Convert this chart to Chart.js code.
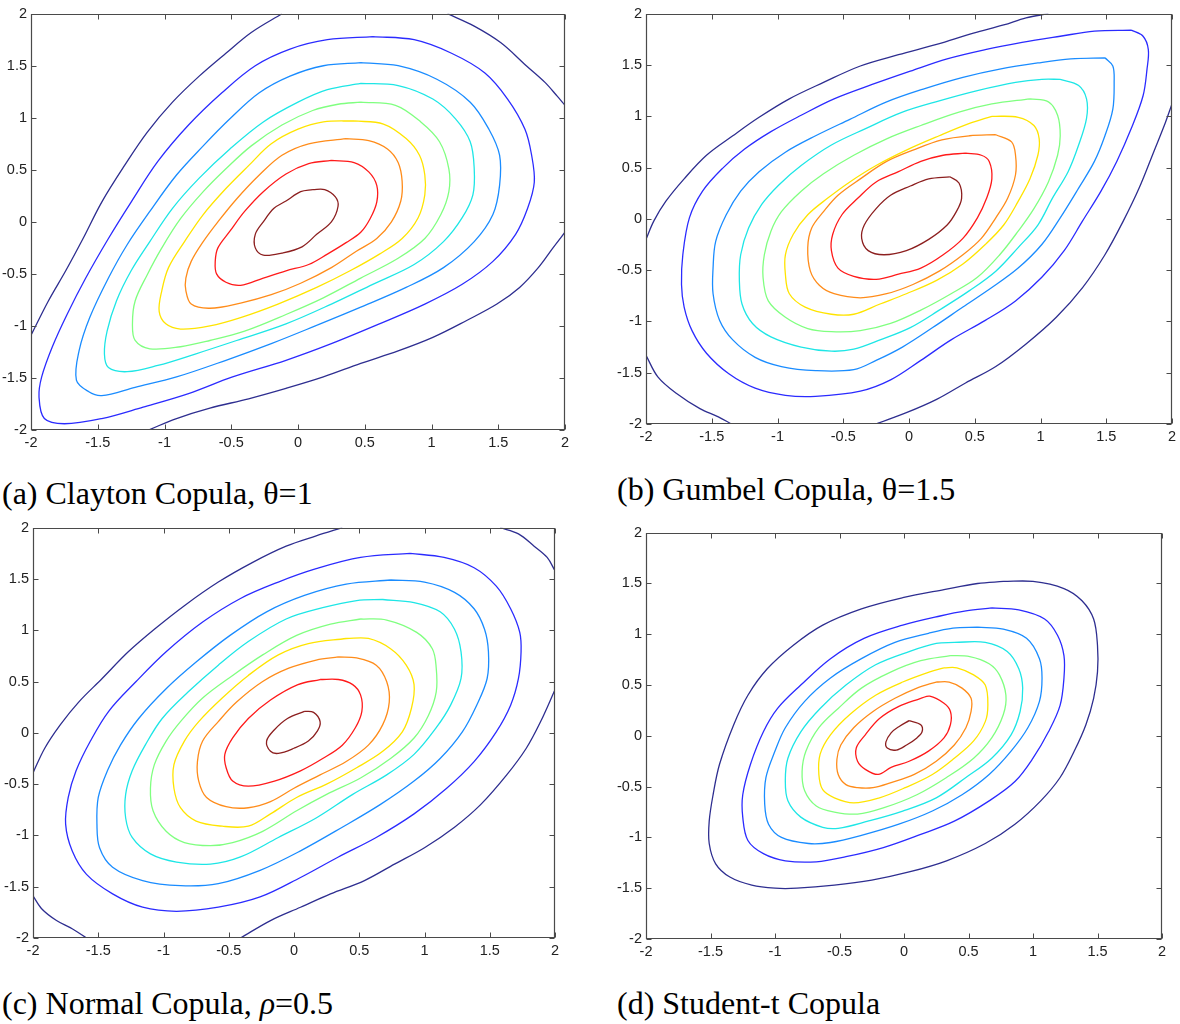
<!DOCTYPE html>
<html><head><meta charset="utf-8">
<script src="https://cdn.jsdelivr.net/npm/chart.js@4.4.1/dist/chart.umd.min.js"></script>
<style>
html,body{margin:0;padding:0;background:#fff;width:1180px;height:1024px;overflow:hidden;position:relative;}
canvas{position:absolute;}
.cap{position:absolute;font-family:"Liberation Serif","Times New Roman",serif;font-size:32px;line-height:32px;color:#000;white-space:nowrap;}
</style></head><body>
<canvas id="ca"></canvas><canvas id="cb"></canvas><canvas id="cc"></canvas><canvas id="cd"></canvas>
<div class="cap" style="left:2px;top:477px">(a) Clayton Copula, θ=1</div>
<div class="cap" style="left:617px;top:473px">(b) Gumbel Copula, θ=1.5</div>
<div class="cap" style="left:2px;top:987px">(c) Normal Copula, <i>ρ</i>=0.5</div>
<div class="cap" style="left:617px;top:987px">(d) Student-t Copula</div>
<script>
const tickValues=[-2,-1.5,-1,-0.5,0,0.5,1,1.5,2];
const tickLabels=['-2','-1.5','-1','-0.5','0','0.5','1','1.5','2'];
const levelColors=['#2e2e90','#2b2bff','#1a8cff','#1ee6e6','#80ff80','#ffe400','#ff8c1a','#ff1a1a','#8c1f1f'];

// (a) Clayton
const a1A=[[-2,-1.09],[-1.87,-0.76],[-1.74,-0.47],[-1.61,-0.16],[-1.47,0.19],[-1.3,0.54],[-1.13,0.86],[-0.94,1.15],[-0.74,1.4],[-0.54,1.62],[-0.35,1.82],[-0.12,2.0]];
const a1B=[[1.12,2.0],[1.32,1.88],[1.52,1.72],[1.71,1.5],[1.85,1.34],[1.94,1.21],[2.0,1.12]];
const a1C=[[2.0,-0.1],[1.91,-0.25],[1.8,-0.44],[1.66,-0.63],[1.49,-0.79],[1.26,-0.95],[1.01,-1.11],[0.75,-1.24],[0.47,-1.36],[0.19,-1.49],[-0.09,-1.6],[-0.37,-1.7],[-0.66,-1.79],[-0.91,-1.89],[-1.12,-2.0]];
const a2=[[0.56,1.78],[0.87,1.75],[1.15,1.62],[1.4,1.43],[1.57,1.18],[1.7,0.89],[1.75,0.64],[1.77,0.38],[1.72,0.13],[1.63,-0.12],[1.46,-0.38],[1.23,-0.6],[0.95,-0.79],[0.61,-0.98],[0.25,-1.17],[-0.09,-1.33],[-0.49,-1.49],[-0.82,-1.65],[-1.16,-1.78],[-1.47,-1.89],[-1.75,-1.94],[-1.9,-1.89],[-1.94,-1.68],[-1.92,-1.49],[-1.84,-1.2],[-1.73,-0.89],[-1.59,-0.54],[-1.42,-0.16],[-1.25,0.19],[-1.05,0.58],[-0.82,0.93],[-0.57,1.24],[-0.32,1.5],[-0.06,1.66],[0.22,1.75],[0.56,1.78]];
const a3=[[0.47,1.53],[0.75,1.5],[1.04,1.37],[1.29,1.15],[1.43,0.89],[1.51,0.64],[1.51,0.35],[1.46,0.07],[1.32,-0.19],[1.09,-0.44],[0.81,-0.63],[0.47,-0.82],[0.13,-1.0],[-0.2,-1.17],[-0.54,-1.33],[-0.91,-1.49],[-1.22,-1.59],[-1.47,-1.67],[-1.57,-1.63],[-1.66,-1.52],[-1.64,-1.24],[-1.56,-0.92],[-1.42,-0.54],[-1.28,-0.22],[-1.11,0.1],[-0.91,0.45],[-0.71,0.73],[-0.51,0.99],[-0.29,1.24],[-0.06,1.4],[0.19,1.5],[0.47,1.53]];
const a4=[[0.47,1.33],[0.75,1.31],[1.01,1.18],[1.18,0.99],[1.29,0.77],[1.32,0.51],[1.31,0.26],[1.23,0.04],[1.09,-0.19],[0.87,-0.41],[0.56,-0.6],[0.25,-0.79],[-0.09,-0.98],[-0.46,-1.14],[-0.77,-1.27],[-1.05,-1.38],[-1.28,-1.44],[-1.42,-1.4],[-1.45,-1.27],[-1.43,-1.05],[-1.36,-0.76],[-1.25,-0.47],[-1.11,-0.19],[-0.94,0.13],[-0.74,0.42],[-0.51,0.7],[-0.26,0.96],[0.0,1.15],[0.22,1.27],[0.47,1.33]];
const a5=[[0.47,1.15],[0.73,1.12],[0.92,0.96],[1.06,0.77],[1.13,0.51],[1.13,0.29],[1.07,0.07],[0.95,-0.16],[0.75,-0.35],[0.47,-0.54],[0.19,-0.73],[-0.09,-0.89],[-0.4,-1.05],[-0.66,-1.14],[-0.88,-1.2],[-1.11,-1.22],[-1.22,-1.14],[-1.24,-0.98],[-1.22,-0.76],[-1.13,-0.51],[-1.02,-0.25],[-0.88,0.03],[-0.71,0.29],[-0.54,0.51],[-0.35,0.73],[-0.12,0.93],[0.11,1.07],[0.3,1.13],[0.47,1.15]];
const a6=[[0.42,0.97],[0.64,0.94],[0.81,0.8],[0.91,0.64],[0.95,0.45],[0.95,0.26],[0.9,0.04],[0.78,-0.16],[0.61,-0.31],[0.39,-0.47],[0.14,-0.63],[-0.15,-0.79],[-0.43,-0.92],[-0.66,-1.0],[-0.88,-1.03],[-0.99,-0.98],[-1.04,-0.86],[-1.02,-0.66],[-0.97,-0.44],[-0.85,-0.19],[-0.71,0.07],[-0.54,0.32],[-0.37,0.54],[-0.2,0.75],[0.0,0.89],[0.19,0.96],[0.42,0.97]];
const a7=[[0.36,0.8],[0.53,0.78],[0.67,0.7],[0.75,0.57],[0.78,0.39],[0.77,0.2],[0.7,0.0],[0.59,-0.16],[0.44,-0.28],[0.25,-0.44],[0.02,-0.59],[-0.2,-0.7],[-0.43,-0.78],[-0.66,-0.83],[-0.8,-0.79],[-0.84,-0.66],[-0.84,-0.54],[-0.8,-0.38],[-0.71,-0.19],[-0.6,0.0],[-0.46,0.22],[-0.29,0.45],[-0.12,0.64],[0.08,0.75],[0.36,0.8]];
const a8=[[0.25,0.59],[0.42,0.57],[0.53,0.48],[0.59,0.35],[0.59,0.19],[0.54,0.03],[0.47,-0.1],[0.36,-0.2],[0.22,-0.31],[0.08,-0.41],[-0.09,-0.47],[-0.26,-0.54],[-0.43,-0.61],[-0.54,-0.58],[-0.61,-0.5],[-0.62,-0.38],[-0.6,-0.25],[-0.51,-0.09],[-0.4,0.1],[-0.26,0.29],[-0.09,0.46],[0.08,0.56],[0.25,0.59]];
const a9=[[0.11,0.31],[0.2,0.31],[0.28,0.24],[0.3,0.15],[0.25,0.0],[0.14,-0.12],[0.03,-0.24],[-0.12,-0.3],[-0.26,-0.32],[-0.32,-0.25],[-0.32,-0.12],[-0.26,0.0],[-0.18,0.13],[-0.09,0.2],[0.02,0.29],[0.11,0.31]];

// (b) Gumbel
const b1A=[[-2,-0.2],[-1.94,-0.02],[-1.85,0.17],[-1.71,0.39],[-1.54,0.62],[-1.34,0.81],[-1.14,0.99],[-0.91,1.17],[-0.65,1.33],[-0.37,1.49],[-0.08,1.6],[0.21,1.7],[0.49,1.81],[0.72,1.89],[0.89,1.96],[1.06,2.0]];
const b1B=[[2,1.12],[1.95,0.94],[1.86,0.65],[1.75,0.3],[1.63,-0.02],[1.49,-0.35],[1.32,-0.67],[1.12,-0.96],[0.89,-1.22],[0.66,-1.44],[0.43,-1.6],[0.21,-1.76],[-0.02,-1.89],[-0.25,-2.0]];
const b1C=[[-2,-1.33],[-1.91,-1.54],[-1.77,-1.7],[-1.59,-1.85],[-1.45,-1.93],[-1.35,-2.0]];
const b2=[[1.69,1.84],[1.78,1.78],[1.82,1.65],[1.81,1.46],[1.78,1.2],[1.69,0.88],[1.58,0.56],[1.46,0.27],[1.32,-0.02],[1.18,-0.31],[1.01,-0.57],[0.81,-0.8],[0.58,-0.99],[0.32,-1.18],[0.09,-1.38],[-0.14,-1.57],[-0.37,-1.68],[-0.71,-1.73],[-0.94,-1.72],[-1.17,-1.65],[-1.37,-1.51],[-1.54,-1.31],[-1.65,-1.09],[-1.71,-0.86],[-1.73,-0.64],[-1.72,-0.35],[-1.67,0.01],[-1.57,0.27],[-1.42,0.49],[-1.25,0.68],[-1.05,0.85],[-0.82,1.01],[-0.57,1.17],[-0.28,1.31],[0.01,1.44],[0.29,1.56],[0.58,1.65],[0.86,1.72],[1.15,1.78],[1.41,1.83],[1.69,1.84]];
const b3=[[1.49,1.57],[1.55,1.49],[1.56,1.33],[1.55,1.07],[1.49,0.81],[1.41,0.56],[1.29,0.3],[1.15,0.01],[1.01,-0.25],[0.83,-0.48],[0.63,-0.67],[0.41,-0.86],[0.18,-1.06],[-0.05,-1.25],[-0.25,-1.38],[-0.42,-1.47],[-0.71,-1.48],[-0.97,-1.44],[-1.17,-1.35],[-1.34,-1.18],[-1.44,-0.99],[-1.49,-0.73],[-1.49,-0.48],[-1.47,-0.22],[-1.39,0.04],[-1.28,0.27],[-1.14,0.46],[-0.94,0.65],[-0.71,0.81],[-0.45,0.97],[-0.17,1.14],[0.12,1.27],[0.41,1.38],[0.69,1.46],[0.98,1.52],[1.23,1.56],[1.49,1.57]];
const b4=[[1.15,1.36],[1.29,1.3],[1.35,1.17],[1.35,0.98],[1.29,0.72],[1.21,0.46],[1.09,0.2],[0.98,-0.06],[0.83,-0.28],[0.66,-0.51],[0.46,-0.7],[0.23,-0.89],[0.01,-1.06],[-0.22,-1.18],[-0.42,-1.27],[-0.59,-1.29],[-0.82,-1.25],[-1.05,-1.15],[-1.19,-1.02],[-1.27,-0.83],[-1.29,-0.6],[-1.28,-0.35],[-1.22,-0.09],[-1.12,0.14],[-0.99,0.33],[-0.82,0.52],[-0.59,0.72],[-0.33,0.88],[-0.05,1.04],[0.23,1.15],[0.52,1.25],[0.81,1.33],[1.01,1.36],[1.15,1.36]];
const b5=[[0.92,1.17],[1.06,1.14],[1.13,1.01],[1.15,0.81],[1.13,0.62],[1.06,0.36],[0.95,0.1],[0.83,-0.12],[0.69,-0.35],[0.52,-0.57],[0.32,-0.73],[0.09,-0.89],[-0.14,-1.02],[-0.37,-1.09],[-0.59,-1.1],[-0.77,-1.07],[-0.94,-0.96],[-1.07,-0.8],[-1.11,-0.57],[-1.1,-0.35],[-1.05,-0.12],[-0.97,0.07],[-0.82,0.27],[-0.65,0.44],[-0.42,0.62],[-0.17,0.78],[0.09,0.91],[0.38,1.04],[0.63,1.12],[0.92,1.17]];
const b6=[[0.63,1.0],[0.83,0.99],[0.95,0.91],[0.99,0.78],[0.98,0.62],[0.92,0.39],[0.83,0.17],[0.72,-0.06],[0.58,-0.25],[0.41,-0.44],[0.21,-0.6],[-0.02,-0.73],[-0.22,-0.83],[-0.42,-0.93],[-0.59,-0.93],[-0.79,-0.86],[-0.91,-0.73],[-0.94,-0.54],[-0.94,-0.35],[-0.88,-0.15],[-0.77,0.04],[-0.62,0.2],[-0.45,0.36],[-0.25,0.52],[-0.02,0.67],[0.23,0.81],[0.46,0.93],[0.63,1.0]];
const b7=[[0.66,0.82],[0.78,0.75],[0.81,0.62],[0.81,0.43],[0.75,0.2],[0.66,0.01],[0.55,-0.19],[0.41,-0.35],[0.23,-0.51],[0.03,-0.64],[-0.17,-0.73],[-0.37,-0.77],[-0.57,-0.73],[-0.68,-0.65],[-0.75,-0.51],[-0.77,-0.28],[-0.74,-0.09],[-0.65,0.07],[-0.54,0.23],[-0.37,0.39],[-0.17,0.56],[0.03,0.67],[0.25,0.77],[0.46,0.81],[0.66,0.82]];
const b8=[[0.43,0.64],[0.55,0.62],[0.61,0.56],[0.63,0.39],[0.59,0.2],[0.52,0.01],[0.41,-0.19],[0.26,-0.35],[0.09,-0.48],[-0.08,-0.54],[-0.25,-0.59],[-0.42,-0.56],[-0.54,-0.48],[-0.59,-0.31],[-0.58,-0.15],[-0.51,0.04],[-0.39,0.2],[-0.25,0.36],[-0.08,0.46],[0.09,0.56],[0.26,0.62],[0.43,0.64]];
const b9=[[0.31,0.41],[0.38,0.35],[0.4,0.2],[0.36,0.07],[0.29,-0.06],[0.15,-0.2],[-0.02,-0.31],[-0.19,-0.35],[-0.31,-0.31],[-0.36,-0.19],[-0.34,-0.06],[-0.25,0.1],[-0.14,0.23],[0.01,0.32],[0.15,0.39],[0.31,0.41]];

// (c) Normal
const c1A=[[-2,-0.39],[-1.91,-0.15],[-1.79,0.08],[-1.65,0.3],[-1.47,0.53],[-1.27,0.79],[-1.07,1.01],[-0.84,1.24],[-0.58,1.47],[-0.32,1.66],[-0.06,1.82],[0.17,1.92],[0.37,2.0]];
const c1B=[[1.58,2.0],[1.72,1.94],[1.84,1.82],[1.94,1.71],[2.0,1.58]];
const c1C=[[2,0.42],[1.89,0.11],[1.78,-0.15],[1.63,-0.41],[1.43,-0.7],[1.23,-0.92],[1.0,-1.12],[0.77,-1.28],[0.54,-1.44],[0.28,-1.57],[0.05,-1.7],[-0.18,-1.83],[-0.41,-2.0]];
const c1D=[[-2,-1.59],[-1.93,-1.72],[-1.82,-1.83],[-1.7,-1.91],[-1.59,-2.0]];
const c2=[[0.89,1.75],[1.15,1.71],[1.38,1.61],[1.55,1.43],[1.66,1.21],[1.73,0.98],[1.74,0.79],[1.72,0.53],[1.66,0.27],[1.55,0.01],[1.38,-0.28],[1.17,-0.54],[0.92,-0.79],[0.63,-1.02],[0.34,-1.21],[0.05,-1.41],[-0.26,-1.6],[-0.58,-1.7],[-0.9,-1.74],[-1.16,-1.7],[-1.39,-1.57],[-1.59,-1.38],[-1.7,-1.15],[-1.75,-0.89],[-1.73,-0.63],[-1.67,-0.37],[-1.56,-0.08],[-1.42,0.21],[-1.21,0.5],[-0.98,0.79],[-0.7,1.08],[-0.41,1.31],[-0.12,1.47],[0.17,1.6],[0.51,1.71],[0.89,1.75]];
const c3=[[0.74,1.49],[1.0,1.47],[1.23,1.37],[1.38,1.21],[1.46,1.01],[1.49,0.79],[1.48,0.53],[1.4,0.27],[1.29,0.01],[1.12,-0.25],[0.92,-0.47],[0.66,-0.7],[0.37,-0.92],[0.05,-1.15],[-0.26,-1.34],[-0.58,-1.47],[-0.87,-1.49],[-1.16,-1.44],[-1.39,-1.31],[-1.49,-1.12],[-1.51,-0.89],[-1.5,-0.63],[-1.43,-0.37],[-1.33,-0.12],[-1.19,0.14],[-0.98,0.43],[-0.75,0.69],[-0.49,0.95],[-0.21,1.18],[0.08,1.34],[0.4,1.45],[0.74,1.49]];
const c4=[[0.68,1.3],[0.92,1.27],[1.12,1.18],[1.23,1.01],[1.28,0.79],[1.28,0.53],[1.2,0.27],[1.09,0.05],[0.92,-0.21],[0.71,-0.41],[0.45,-0.6],[0.17,-0.83],[-0.12,-1.02],[-0.41,-1.21],[-0.64,-1.28],[-0.9,-1.26],[-1.1,-1.18],[-1.24,-1.02],[-1.29,-0.83],[-1.29,-0.6],[-1.24,-0.37],[-1.14,-0.12],[-1.01,0.14],[-0.81,0.4],[-0.58,0.66],[-0.35,0.89],[-0.06,1.11],[0.22,1.22],[0.48,1.29],[0.68,1.3]];
const c5=[[0.51,1.11],[0.71,1.1],[0.94,0.98],[1.06,0.82],[1.09,0.63],[1.09,0.4],[1.03,0.17],[0.92,-0.05],[0.74,-0.25],[0.51,-0.44],[0.25,-0.6],[0.02,-0.76],[-0.24,-0.96],[-0.47,-1.07],[-0.64,-1.1],[-0.84,-1.07],[-0.98,-0.96],[-1.08,-0.76],[-1.1,-0.54],[-1.07,-0.31],[-0.98,-0.08],[-0.87,0.11],[-0.7,0.34],[-0.47,0.56],[-0.24,0.76],[0.02,0.95],[0.28,1.06],[0.51,1.11]];
const c6=[[0.4,0.92],[0.57,0.92],[0.74,0.82],[0.86,0.66],[0.92,0.47],[0.9,0.24],[0.83,0.01],[0.68,-0.18],[0.48,-0.34],[0.25,-0.5],[0.02,-0.63],[-0.18,-0.79],[-0.35,-0.91],[-0.55,-0.91],[-0.75,-0.86],[-0.87,-0.73],[-0.92,-0.54],[-0.92,-0.31],[-0.84,-0.08],[-0.73,0.11],[-0.55,0.34],[-0.35,0.56],[-0.12,0.76],[0.11,0.87],[0.4,0.92]];
const c7=[[0.34,0.74],[0.48,0.73],[0.63,0.66],[0.71,0.5],[0.73,0.3],[0.68,0.08],[0.57,-0.12],[0.4,-0.28],[0.2,-0.41],[0.0,-0.54],[-0.18,-0.67],[-0.35,-0.73],[-0.52,-0.72],[-0.67,-0.63],[-0.73,-0.47],[-0.74,-0.28],[-0.7,-0.08],[-0.58,0.11],[-0.44,0.3],[-0.24,0.5],[-0.04,0.63],[0.17,0.71],[0.34,0.74]];
const c8=[[0.2,0.52],[0.34,0.52],[0.45,0.47],[0.51,0.37],[0.52,0.21],[0.47,0.05],[0.37,-0.12],[0.22,-0.25],[0.05,-0.37],[-0.15,-0.47],[-0.35,-0.52],[-0.47,-0.47],[-0.52,-0.34],[-0.53,-0.21],[-0.47,-0.05],[-0.35,0.14],[-0.18,0.32],[0.03,0.47],[0.2,0.52]];
const c9=[[0.08,0.21],[0.15,0.2],[0.2,0.11],[0.18,0.02],[0.11,-0.08],[0.0,-0.15],[-0.12,-0.2],[-0.18,-0.18],[-0.21,-0.08],[-0.15,0.03],[-0.05,0.14],[0.08,0.21]];

// (d) Student-t
const d1=[[0.77,1.52],[1.0,1.52],[1.24,1.45],[1.38,1.33],[1.47,1.15],[1.5,0.89],[1.5,0.63],[1.47,0.37],[1.41,0.11],[1.32,-0.15],[1.21,-0.41],[1.06,-0.64],[0.86,-0.87],[0.63,-1.06],[0.33,-1.23],[0.04,-1.34],[-0.25,-1.42],[-0.54,-1.47],[-0.83,-1.5],[-1.0,-1.5],[-1.18,-1.47],[-1.35,-1.39],[-1.46,-1.26],[-1.51,-1.06],[-1.51,-0.84],[-1.48,-0.58],[-1.43,-0.28],[-1.32,0.11],[-1.21,0.4],[-1.06,0.66],[-0.86,0.89],[-0.63,1.09],[-0.33,1.25],[-0.01,1.36],[0.31,1.44],[0.57,1.5],[0.77,1.52]];
const d2=[[0.68,1.26],[0.89,1.24],[1.09,1.15],[1.19,0.99],[1.24,0.79],[1.24,0.57],[1.21,0.3],[1.12,0.04],[1.0,-0.22],[0.86,-0.45],[0.66,-0.64],[0.39,-0.84],[0.13,-0.97],[-0.16,-1.1],[-0.45,-1.19],[-0.68,-1.24],[-0.92,-1.23],[-1.09,-1.16],[-1.21,-1.03],[-1.25,-0.8],[-1.25,-0.58],[-1.19,-0.28],[-1.09,0.04],[-0.98,0.27],[-0.8,0.5],[-0.57,0.76],[-0.31,0.96],[-0.01,1.09],[0.28,1.18],[0.48,1.23],[0.68,1.26]];
const d3=[[0.57,1.07],[0.77,1.05],[0.95,0.96],[1.05,0.76],[1.07,0.57],[1.05,0.34],[0.96,0.08],[0.83,-0.15],[0.66,-0.38],[0.45,-0.58],[0.22,-0.74],[-0.04,-0.87],[-0.33,-0.98],[-0.57,-1.05],[-0.74,-1.06],[-0.95,-1.0],[-1.05,-0.87],[-1.08,-0.67],[-1.07,-0.41],[-1.0,-0.15],[-0.92,0.08],[-0.77,0.34],[-0.57,0.57],[-0.33,0.76],[-0.07,0.92],[0.19,1.01],[0.38,1.06],[0.57,1.07]];
const d4=[[0.39,0.92],[0.63,0.92],[0.8,0.83],[0.89,0.66],[0.92,0.47],[0.9,0.24],[0.83,0.01],[0.68,-0.22],[0.48,-0.41],[0.25,-0.61],[-0.01,-0.74],[-0.28,-0.84],[-0.51,-0.91],[-0.63,-0.9],[-0.8,-0.8],[-0.9,-0.64],[-0.92,-0.44],[-0.9,-0.22],[-0.8,0.04],[-0.65,0.27],[-0.45,0.5],[-0.22,0.7],[0.04,0.83],[0.25,0.91],[0.39,0.92]];
const d5=[[0.36,0.79],[0.51,0.78],[0.66,0.71],[0.74,0.6],[0.79,0.4],[0.77,0.21],[0.68,-0.02],[0.54,-0.22],[0.33,-0.41],[0.1,-0.58],[-0.16,-0.71],[-0.36,-0.77],[-0.54,-0.75],[-0.68,-0.69],[-0.77,-0.54],[-0.79,-0.35],[-0.76,-0.15],[-0.66,0.08],[-0.51,0.27],[-0.33,0.47],[-0.1,0.63],[0.13,0.74],[0.36,0.79]];
const d6=[[0.31,0.67],[0.41,0.67],[0.54,0.6],[0.63,0.5],[0.65,0.3],[0.63,0.14],[0.54,-0.05],[0.39,-0.22],[0.22,-0.38],[0.01,-0.51],[-0.19,-0.61],[-0.39,-0.66],[-0.54,-0.61],[-0.63,-0.53],[-0.66,-0.38],[-0.65,-0.18],[-0.57,0.01],[-0.42,0.21],[-0.22,0.4],[-0.01,0.53],[0.2,0.63],[0.31,0.67]];
const d7=[[0.25,0.53],[0.35,0.53],[0.45,0.47],[0.52,0.37],[0.52,0.24],[0.48,0.08],[0.39,-0.09],[0.25,-0.25],[0.08,-0.38],[-0.1,-0.46],[-0.24,-0.51],[-0.36,-0.51],[-0.45,-0.48],[-0.51,-0.38],[-0.52,-0.23],[-0.49,-0.09],[-0.39,0.08],[-0.24,0.24],[-0.07,0.37],[0.1,0.47],[0.25,0.53]];
const d8=[[0.13,0.37],[0.2,0.39],[0.31,0.32],[0.36,0.24],[0.36,0.11],[0.31,-0.02],[0.19,-0.15],[0.04,-0.25],[-0.1,-0.31],[-0.2,-0.38],[-0.3,-0.33],[-0.36,-0.25],[-0.37,-0.12],[-0.3,0.01],[-0.19,0.17],[-0.04,0.29],[0.13,0.37]];
const d9=[[0.04,0.15],[0.13,0.11],[0.14,0.04],[0.1,-0.02],[0.02,-0.09],[-0.06,-0.14],[-0.13,-0.12],[-0.14,-0.06],[-0.1,0.03],[-0.04,0.09],[0.04,0.15]];

const framePlugin={
  id:'matlabFrame',
  afterDatasetsDraw(chart){
    const ctx=chart.ctx, a=chart.chartArea, sx=chart.scales.x, sy=chart.scales.y;
    const L=Math.round(a.left)+0.5, R=Math.round(a.right)-0.5, T=Math.round(a.top)+0.5, B=Math.round(a.bottom)-0.5;
    ctx.save();
    ctx.strokeStyle='#4a4a4a';ctx.lineWidth=1.2;
    ctx.beginPath();ctx.rect(L,T,R-L,B-T);ctx.stroke();
    ctx.lineWidth=1;
    ctx.beginPath();
    const tl=5;
    tickValues.forEach(v=>{
      const px=Math.round(sx.getPixelForValue(v))+0.5;
      ctx.moveTo(px,B);ctx.lineTo(px,B-tl);
      ctx.moveTo(px,T);ctx.lineTo(px,T+tl);
      const py=Math.round(sy.getPixelForValue(v))+0.5;
      ctx.moveTo(L,py);ctx.lineTo(L+tl,py);
      ctx.moveTo(R,py);ctx.lineTo(R-tl,py);
    });
    ctx.stroke();ctx.restore();
  }
};

function axisOpts(isX,pad){
  return {
    type:'linear',min:-2,max:2,
    afterBuildTicks:s=>{s.ticks=tickValues.map(v=>({value:v}));},
    afterFit:s=>{ if(isX) s.height=pad; else s.width=pad; },
    grid:{display:false,drawTicks:false},
    border:{display:false},
    ticks:{autoSkip:false,maxRotation:0,padding:isX?4:4,color:'#222',
      font:{family:'"Liberation Sans", Arial, sans-serif',size:14.5},
      callback:(v,i)=>tickLabels[i]}
  };
}

function buildPanel(id,box,levels){
  const cv=document.getElementById(id);
  const padL=40,padT=10,padR=12,padB=30;
  cv.width=(box.R-box.L)+padL+padR; cv.height=(box.B-box.T)+padT+padB;
  cv.style.left=(box.L-padL)+'px'; cv.style.top=(box.T-padT)+'px';
  const datasets=[];
  levels.forEach((segs,li)=>segs.forEach(seg=>datasets.push({
    data:seg.map(p=>({x:p[0],y:p[1]})),
    borderColor:levelColors[li],backgroundColor:levelColors[li],
    borderWidth:1.3,showLine:true,pointRadius:0,pointHoverRadius:0,tension:0.35,fill:false
  })));
  new Chart(cv,{type:'scatter',data:{datasets},
    options:{responsive:false,animation:false,events:[],devicePixelRatio:1,
      layout:{padding:{left:0,top:padT,right:padR,bottom:0}},
      plugins:{legend:{display:false},tooltip:{enabled:false},title:{display:false}},
      scales:{x:axisOpts(true,padB),y:axisOpts(false,padL)}},
    plugins:[framePlugin]});
}

buildPanel('ca',{L:31,T:11,R:565,B:430},[[a1A,a1B,a1C],[a2],[a3],[a4],[a5],[a6],[a7],[a8],[a9]]);
buildPanel('cb',{L:646,T:11,R:1172,B:424},[[b1A,b1B,b1C],[b2],[b3],[b4],[b5],[b6],[b7],[b8],[b9]]);
buildPanel('cc',{L:33,T:525,R:555,B:938},[[c1A,c1B,c1C,c1D],[c2],[c3],[c4],[c5],[c6],[c7],[c8],[c9]]);
buildPanel('cd',{L:646,T:530,R:1162,B:939},[[d1],[d2],[d3],[d4],[d5],[d6],[d7],[d8],[d9]]);
</script>
</body></html>
